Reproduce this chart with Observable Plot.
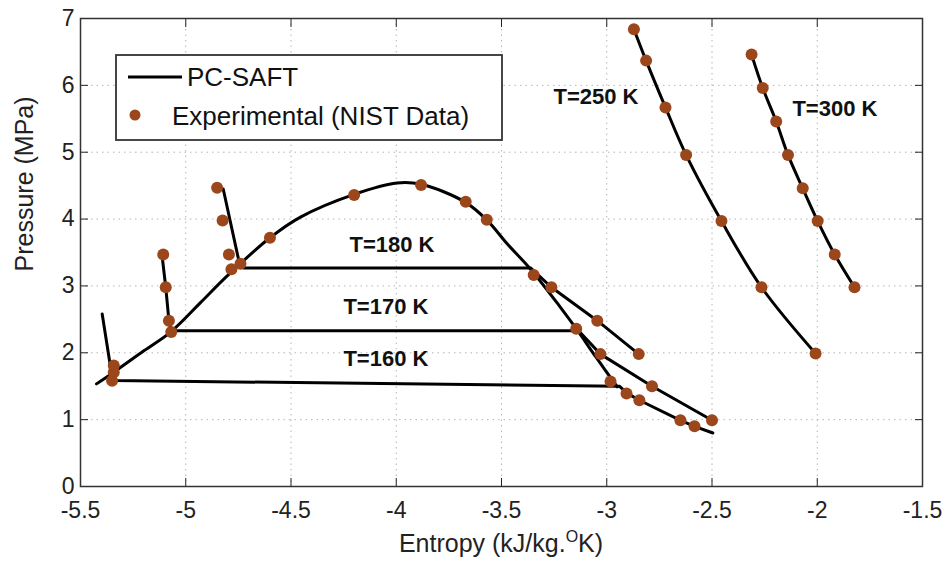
<!DOCTYPE html>
<html><head><meta charset="utf-8">
<script src="https://cdn.jsdelivr.net/npm/d3@7"></script>
<script src="https://cdn.jsdelivr.net/npm/@observablehq/plot@0.6"></script>
<style>
body{margin:0;background:#fff;}
#wrap{width:943px;height:562px;}
</style></head><body><div id="wrap"></div>
<script>
const xTicks = [-5.5, -5, -4.5, -4, -3.5, -3, -2.5, -2, -1.5];
const yTicks = [0, 1, 2, 3, 4, 5, 6, 7];

// PC-SAFT curves (entropy kJ/kg.K, pressure MPa)
const dome = [[-5.424,1.535],[-5.342,1.71],[-5.199,2.03],[-5.072,2.31],[-4.93,2.75],[-4.803,3.15],[-4.60,3.72],[-4.455,4.03],[-4.20,4.37],[-3.996,4.54],[-3.882,4.52],[-3.671,4.25],[-3.568,3.98],[-3.473,3.63],[-3.362,3.25],[-3.22,2.68],[-3.145,2.36],[-3.05,1.93],[-2.95,1.49]];
const iso160 = [[-5.397,2.58],[-5.357,1.78],[-5.345,1.585],[-2.94,1.50],[-2.906,1.40],[-2.845,1.29],[-2.65,0.99],[-2.583,0.90],[-2.496,0.80]];
const iso170 = [[-5.112,3.44],[-5.095,2.98],[-5.08,2.48],[-5.069,2.33],[-3.134,2.33],[-3.03,1.98],[-2.785,1.50],[-2.50,0.99]];
const iso180 = [[-4.822,4.45],[-4.748,3.38],[-4.726,3.27],[-3.362,3.27],[-3.263,2.98],[-3.045,2.48],[-2.848,1.98]];
const iso250 = [[-2.871,6.84],[-2.813,6.37],[-2.721,5.67],[-2.623,4.96],[-2.455,3.97],[-2.265,2.98],[-2.008,1.99]];
const iso300 = [[-2.312,6.46],[-2.259,5.96],[-2.195,5.46],[-2.139,4.96],[-2.069,4.46],[-1.998,3.97],[-1.917,3.47],[-1.823,2.98]];

// Experimental (NIST) points
const expS = [-5.342,-5.342,-5.35, -5.107,-5.095,-5.08,-5.069, -4.851,-4.825,-4.795,-4.783,-4.74,
  -4.60,-4.20,-3.882,-3.67,-3.57,-3.347,-3.145,-2.982,
  -3.263,-3.045,-2.848, -3.03,-2.785,-2.50, -2.906,-2.845,-2.65,-2.583,
  -2.871,-2.813,-2.721,-2.623,-2.455,-2.265,-2.008,
  -2.312,-2.259,-2.195,-2.139,-2.069,-1.998,-1.917,-1.823];
const expP = [1.81,1.71,1.58, 3.47,2.98,2.48,2.31, 4.47,3.98,3.47,3.25,3.33,
  3.72,4.36,4.51,4.26,3.99,3.165,2.36,1.57,
  2.98,2.48,1.98, 1.98,1.50,0.99, 1.39,1.29,0.99,0.90,
  6.84,6.37,5.67,4.96,3.97,2.98,1.99,
  6.46,5.96,5.46,4.96,4.46,3.97,3.47,2.98];

const labelText = ["T=180 K","T=170 K","T=160 K","T=250 K","T=300 K"];
const labelS = [-4.222,-4.251,-4.251,-3.253,-2.118];
const labelP = [3.62,2.69,1.91,5.83,5.65];

const toRows = (name, arr) => arr.map(([s,p]) => ({curve:name, s, p}));
const smoothRows = [...toRows("dome", dome), ...toRows("250", iso250), ...toRows("300", iso300)];
const isoRows = [...toRows("160", iso160), ...toRows("170", iso170), ...toRows("180", iso180)];
const expRows = expS.map((s,i) => ({s, p: expP[i]}));
const labelRows = labelText.map((t,i) => ({t, s: labelS[i], p: labelP[i]}));

const FONT = '"Liberation Sans", Arial, Helvetica, sans-serif';
const DOT = "#9b461b";

const plot = Plot.plot({
  width: 943, height: 562,
  marginTop: 18, marginRight: 21, marginBottom: 76, marginLeft: 80,
  style: {fontFamily: FONT, fontSize: "23px", color: "#222", background: "#fff", overflow: "visible"},
  x: {domain: [-5.5, -1.5], ticks: xTicks, label: null},
  y: {domain: [0, 7], ticks: yTicks, label: null},
  marks: [
    Plot.gridX(xTicks, {stroke: "#b5b5b5", strokeOpacity: 1, strokeDasharray: "1.5,4"}),
    Plot.gridY(yTicks, {stroke: "#b5b5b5", strokeOpacity: 1, strokeDasharray: "1.5,4"}),
    Plot.axisX(xTicks, {anchor: "bottom", tickSize: -8, tickPadding: 23, tickFormat: d => String(d), fontSize: 23}),
    Plot.axisX(xTicks, {anchor: "top", tickSize: -8, tickFormat: () => ""}),
    Plot.axisY(yTicks, {anchor: "left", tickSize: -8, tickPadding: 14, tickFormat: d => String(d), fontSize: 23}),
    Plot.axisY(yTicks, {anchor: "right", tickSize: -8, tickFormat: () => ""}),
    Plot.frame({stroke: "#333", strokeWidth: 1.5}),
    Plot.line(smoothRows, {x: "s", y: "p", z: "curve", stroke: "#000", strokeWidth: 3, curve: "catmull-rom"}),
    Plot.line(isoRows, {x: "s", y: "p", z: "curve", stroke: "#000", strokeWidth: 3, curve: "linear"}),
    Plot.dot(expRows, {x: "s", y: "p", r: 6, fill: DOT, stroke: "none"}),
    Plot.text(labelRows, {x: "s", y: "p", text: "t", textAnchor: "start", lineAnchor: "middle", fontWeight: "bold", fontSize: 22, fill: "#111"}),
    Plot.text(["Pressure (MPa)"], {frameAnchor: "left", rotate: -90, dx: -56, dy: 19, fontSize: 25, fill: "#222", lineAnchor: "middle"})
  ]
});

document.getElementById("wrap").appendChild(plot);

// x-axis title with superscript
const svg = d3.select(plot);
const xr = plot.scale("x").range;
const yr = plot.scale("y").range;
const xt = svg.append("text")
  .attr("x", (xr[0] + xr[1]) / 2).attr("y", yr[0] + 66)
  .attr("text-anchor", "middle").attr("font-family", FONT).attr("font-size", 25).attr("fill", "#222");
xt.append("tspan").text("Entropy (kJ/kg.");
xt.append("tspan").attr("dy", -10).attr("font-size", 16).text("O");
xt.append("tspan").attr("dy", 10).text("K)");

// legend
const lg = svg.append("g").attr("font-family", FONT).attr("font-size", 26).attr("fill", "#111").attr("text-anchor", "start");
lg.append("rect").attr("x", 116).attr("y", 55).attr("width", 386).attr("height", 85)
  .attr("fill", "#fff").attr("stroke", "#333").attr("stroke-width", 1.8);
lg.append("line").attr("x1", 128).attr("x2", 182).attr("y1", 77).attr("y2", 77).attr("stroke", "#000").attr("stroke-width", 3);
lg.append("text").attr("x", 187).attr("y", 86).attr("text-anchor", "start").text("PC-SAFT");
lg.append("circle").attr("cx", 135).attr("cy", 115).attr("r", 5.5).attr("fill", DOT);
lg.append("text").attr("x", 172).attr("y", 125).attr("text-anchor", "start").text("Experimental (NIST Data)");
</script>
</body></html>
